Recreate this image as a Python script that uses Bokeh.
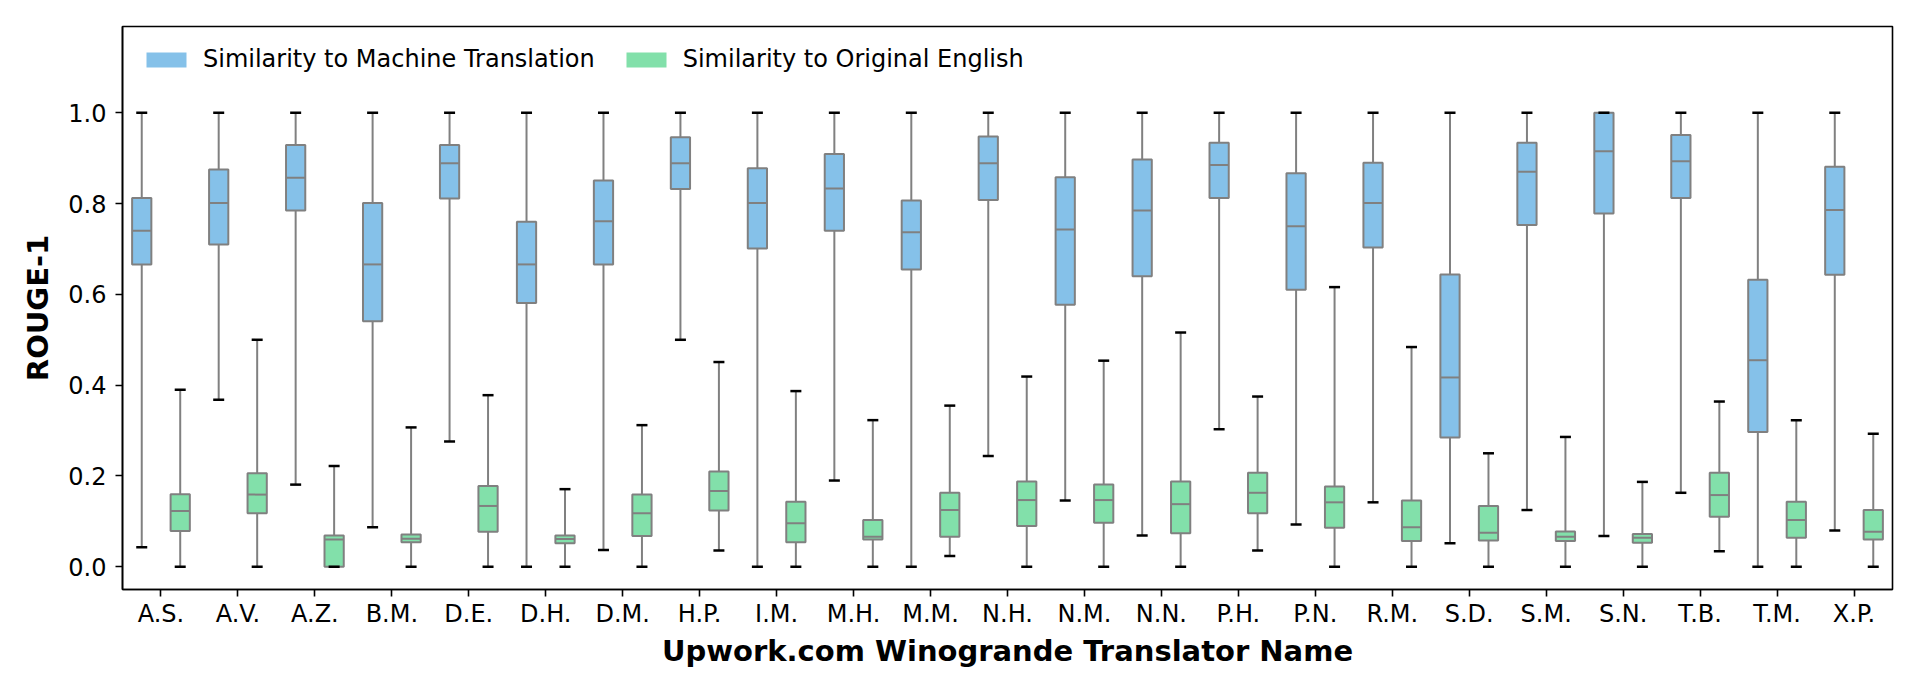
from bokeh.plotting import figure
from bokeh.models import (ColumnDataSource, FactorRange, Range1d, FixedTicker,
                          NumeralTickFormatter, Legend, LegendItem)
from bokeh.transform import dodge
from bokeh.embed import file_html
from bokeh.resources import INLINE

names = ["A.S.", "A.V.", "A.Z.", "B.M.", "D.E.", "D.H.", "D.M.", "H.P.", "I.M.",
         "M.H.", "M.M.", "N.H.", "N.M.", "N.N.", "P.H.", "P.N.", "R.M.", "S.D.",
         "S.M.", "S.N.", "T.B.", "T.M.", "X.P."]

# Similarity to Machine Translation (whisker low, Q1, median, Q3, whisker high)
mt_lo = [0.043, 0.368, 0.181, 0.087, 0.276, 0.000, 0.037, 0.500, 0.000, 0.190, 0.000, 0.244,
         0.146, 0.069, 0.303, 0.093, 0.142, 0.052, 0.125, 0.068, 0.163, 0.000, 0.080]
mt_q1 = [0.666, 0.710, 0.785, 0.541, 0.811, 0.581, 0.666, 0.832, 0.701, 0.740, 0.655, 0.808,
         0.577, 0.640, 0.812, 0.610, 0.703, 0.285, 0.753, 0.778, 0.812, 0.297, 0.643]
mt_med = [0.740, 0.801, 0.857, 0.666, 0.889, 0.666, 0.761, 0.889, 0.801, 0.833, 0.737, 0.889,
          0.743, 0.785, 0.885, 0.750, 0.801, 0.417, 0.870, 0.915, 0.893, 0.455, 0.786]
mt_q3 = [0.812, 0.875, 0.929, 0.801, 0.929, 0.760, 0.851, 0.946, 0.878, 0.909, 0.807, 0.948,
         0.858, 0.897, 0.934, 0.867, 0.890, 0.644, 0.934, 1.000, 0.951, 0.632, 0.881]
mt_hi = [1.0] * 23

# Similarity to Original English
en_lo = [0.000, 0.000, 0.000, 0.000, 0.000, 0.000, 0.000, 0.036, 0.000, 0.000, 0.024, 0.000,
         0.000, 0.000, 0.036, 0.000, 0.000, 0.000, 0.000, 0.000, 0.034, 0.000, 0.000]
en_q1 = [0.079, 0.118, 0.000, 0.054, 0.077, 0.052, 0.068, 0.124, 0.054, 0.060, 0.066, 0.090,
         0.097, 0.074, 0.118, 0.086, 0.057, 0.058, 0.057, 0.053, 0.110, 0.064, 0.060]
en_med = [0.123, 0.159, 0.060, 0.062, 0.134, 0.061, 0.118, 0.167, 0.096, 0.066, 0.125, 0.147,
          0.147, 0.138, 0.163, 0.142, 0.087, 0.075, 0.066, 0.064, 0.158, 0.103, 0.077]
en_q3 = [0.160, 0.206, 0.069, 0.071, 0.178, 0.069, 0.159, 0.210, 0.143, 0.103, 0.163, 0.188,
         0.181, 0.188, 0.207, 0.177, 0.146, 0.134, 0.078, 0.072, 0.207, 0.143, 0.125]
en_hi = [0.390, 0.500, 0.222, 0.307, 0.378, 0.171, 0.312, 0.451, 0.387, 0.323, 0.355, 0.419,
         0.454, 0.516, 0.375, 0.616, 0.484, 0.250, 0.286, 0.187, 0.364, 0.323, 0.293]

series_labels = ["Similarity to Machine Translation", "Similarity to Original English"]
BLUE = "#85C1E9"
GREEN = "#82E0AA"
EDGE = "#808080"
FONT = "DejaVu Sans"

p = figure(x_range=FactorRange(factors=names), y_range=Range1d(-0.05, 1.19),
           width=1908, height=689, output_backend="svg", toolbar_location=None,
           min_border_left=122, min_border_right=16, min_border_top=26,
           min_border_bottom=100)

BOX_W = 0.25
HW = BOX_W / 2
legend_items = []
for label, color, off, lo, q1, med, q3, hi in [
        (series_labels[0], BLUE, -0.25, mt_lo, mt_q1, mt_med, mt_q3, mt_hi),
        (series_labels[1], GREEN, 0.25, en_lo, en_q1, en_med, en_q3, en_hi)]:
    src = ColumnDataSource(dict(name=names, lo=lo, q1=q1, med=med, q3=q3, hi=hi))
    xc = dodge("name", off, range=p.x_range)
    p.segment(x0=xc, y0="q3", x1=xc, y1="hi", line_color=EDGE, line_width=2, source=src)
    p.segment(x0=xc, y0="q1", x1=xc, y1="lo", line_color=EDGE, line_width=2, source=src)
    p.vbar(x=xc, width=BOX_W, top="q3", bottom="q1", fill_color=color,
           line_color=EDGE, line_width=2, source=src)
    p.segment(x0=dodge("name", off - HW, range=p.x_range), y0="med",
              x1=dodge("name", off + HW, range=p.x_range), y1="med",
              line_color=EDGE, line_width=2, source=src)
    for col in ("hi", "lo"):
        p.scatter(x=xc, y=col, marker="dash", size=11, line_color="black",
                  line_width=2.5, source=src)
    # legend-only swatch (no data shown in the plot area)
    swatch_src = ColumnDataSource(dict(name=[names[0]], top=[float("nan")],
                                       bottom=[float("nan")]))
    swatch = p.vbar(x="name", top="top", bottom="bottom", width=BOX_W,
                    fill_color=color, line_alpha=0, source=swatch_src)
    legend_items.append(LegendItem(label=label, renderers=[swatch]))

legend = Legend(items=legend_items, location="top_left", orientation="horizontal",
                margin=9, padding=10, spacing=26, glyph_width=50, glyph_height=19,
                label_standoff=12, label_text_font=FONT, label_text_font_size="24px",
                label_text_color="black", border_line_alpha=0, background_fill_alpha=0)
p.add_layout(legend)

p.xgrid.visible = False
p.ygrid.visible = False
p.outline_line_color = "black"
p.outline_line_width = 1.6
p.outline_line_alpha = 1.0

p.yaxis.ticker = FixedTicker(ticks=[0.0, 0.2, 0.4, 0.6, 0.8, 1.0])
p.yaxis.formatter = NumeralTickFormatter(format="0.0")
p.yaxis.minor_tick_line_color = None

for ax in (p.xaxis[0], p.yaxis[0]):
    ax.axis_line_color = "black"
    ax.axis_line_width = 1.6
    ax.major_tick_line_color = "black"
    ax.major_tick_line_width = 1.6
    ax.major_tick_out = 7
    ax.major_tick_in = 0
    ax.major_label_text_font = FONT
    ax.major_label_text_font_size = "24px"
    ax.major_label_text_color = "black"
    ax.axis_label_text_font = FONT
    ax.axis_label_text_font_size = "29px"
    ax.axis_label_text_font_style = "bold"
    ax.axis_label_text_color = "black"

p.yaxis.major_label_standoff = 9
p.yaxis.axis_label = "ROUGE-1"
p.yaxis.axis_label_standoff = 10
p.xaxis.major_label_standoff = 3
p.xaxis.axis_label = "Upwork.com Winogrande Translator Name"
p.xaxis.axis_label_standoff = 3

open("out.html", "w").write(file_html(p, INLINE))
